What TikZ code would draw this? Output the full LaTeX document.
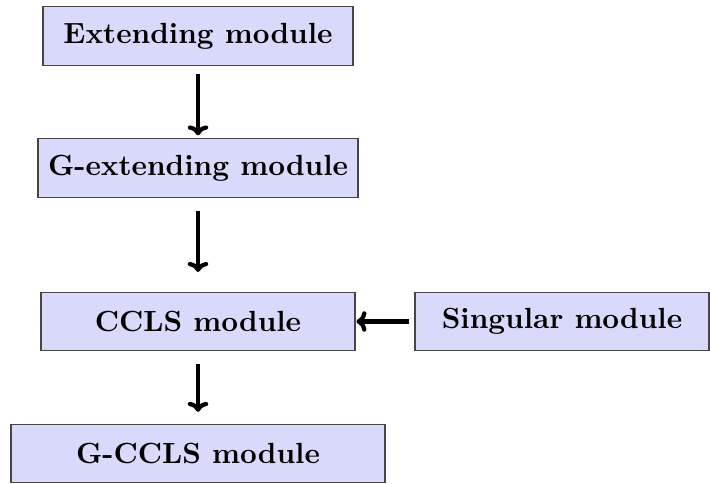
\documentclass[tikz,border=0pt]{standalone}
\usetikzlibrary{arrows.meta}
\definecolor{boxfill}{RGB}{217,217,252}
\definecolor{boxline}{RGB}{70,70,70}
\begin{document}
\begin{tikzpicture}[x=0.3426pt,y=-0.3426pt,
  modbox/.style={draw=boxline,line width=0.4pt,fill=boxfill,inner sep=0pt,
    minimum height=20pt,font=\bfseries},
  flow/.style={-{To[length=3.4pt,width=7pt]},line width=1.45pt}]
\useasboundingbox (0,0) rectangle (710,483);
\node[modbox,minimum width=106.2pt] (ext)  at (198,36)    {Extending module};
\node[modbox,minimum width=109.6pt] (gext) at (198,168)   {G-extending module};
\node[modbox,minimum width=107.6pt] (ccls) at (198,321.5) {CCLS module};
\node[modbox,minimum width=100.7pt] (sing) at (562,321.5) {Singular module};
\node[modbox,minimum width=128.1pt] (gccls) at (198,453.5) {G-CCLS module};
\draw[flow,shorten <=2.7pt,shorten >=1pt] (ext) -- (gext);
\draw[flow,shorten <=4.4pt,shorten >=6.8pt] (gext) -- (ccls);
\draw[flow,shorten <=4.4pt,shorten >=4.1pt] (ccls) -- (gccls);
\draw[flow,shorten <=1.7pt,shorten >=0.3pt] (sing) -- (ccls);
\end{tikzpicture}
\end{document}
